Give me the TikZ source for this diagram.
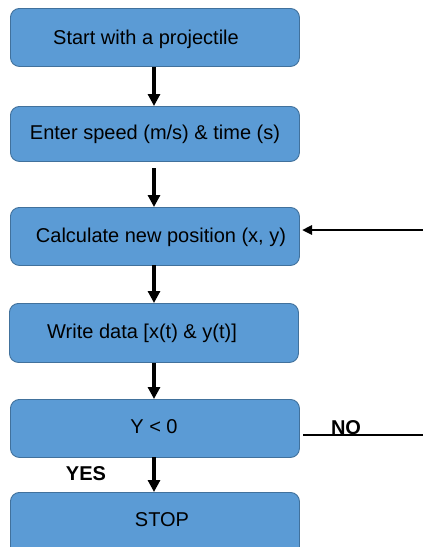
\documentclass[tikz,border=0pt]{standalone}
\usepackage{fontspec}
\setmainfont{Liberation Sans}
\usetikzlibrary{arrows.meta,calc}
\definecolor{boxfill}{HTML}{5B9BD5}
\definecolor{boxline}{HTML}{41719C}
\begin{document}
\begin{tikzpicture}[x=1pt,y=-1pt,
  stepbox/.style={draw=boxline,line width=0.9pt,fill=boxfill,rounded corners=9pt,
    minimum width=289pt,minimum height=58pt,inner sep=0pt,anchor=north west},
  txt/.style={font=\fontsize{20}{24}\selectfont,inner sep=0pt},
  btxt/.style={font=\fontsize{20}{24}\selectfont\bfseries,inner sep=0pt},
  flow/.style={line width=3.3pt,-{Triangle[length=12pt,width=12pt]}},
  back/.style={line width=2.5pt,-{Triangle[length=10pt,width=9pt]}},
  plain/.style={line width=2.3pt}]
\useasboundingbox (0,0) rectangle (423,547);
\clip (0,0) rectangle (423,547);
\node[stepbox] (b1) at (10,8) {};
\node[stepbox,minimum height=55pt] (b2) at (10,106) {};
\node[stepbox] (b3) at (10,207) {};
\node[stepbox,minimum height=59pt] (b4) at (9,303) {};
\node[stepbox] (b5) at (10,399) {};
\node[stepbox,minimum height=70pt] (b6) at (10,492) {};
\node[txt] (t1) at (146,39) {Start with a projectile};
\node[txt] (t2) at (155,134) {Enter speed (m/s) \& time (s)};
\node[txt] (t3) at (161,237) {Calculate new position (x, y)};
\node[txt] (t4) at (142,333) {Write data [x(t) \& y(t)]};
\node[txt] (t5) at (154,427) {Y < 0};
\node[txt] (t6) at (162,520) {STOP};
\node[btxt] (yes) at (86,474) {YES};
\node[btxt] (no) at (346,428) {NO};
\coordinate (a1s) at (154,67);
\coordinate (a1e) at (154,106);
\coordinate (a2s) at (154,168);
\coordinate (a2e) at (154,207);
\coordinate (a3s) at (154,265);
\coordinate (a3e) at (154,303);
\coordinate (a4s) at (154,363);
\coordinate (a4e) at (154,399);
\coordinate (a5s) at (154,457);
\coordinate (a5e) at (154,492);
\draw[flow] (a1s) -- (a1e);
\draw[flow] (a2s) -- (a2e);
\draw[flow] (a3s) -- (a3e);
\draw[flow] (a4s) -- (a4e);
\draw[flow] (a5s) -- (a5e);
\coordinate (fbR) at (423,230);
\coordinate (fbL) at (302,230);
\draw[back] (fbR) -- (fbL);
\coordinate (noL) at (303,435);
\coordinate (noR) at (423,435);
\draw[plain] (noL) -- (noR);
\end{tikzpicture}
\end{document}
